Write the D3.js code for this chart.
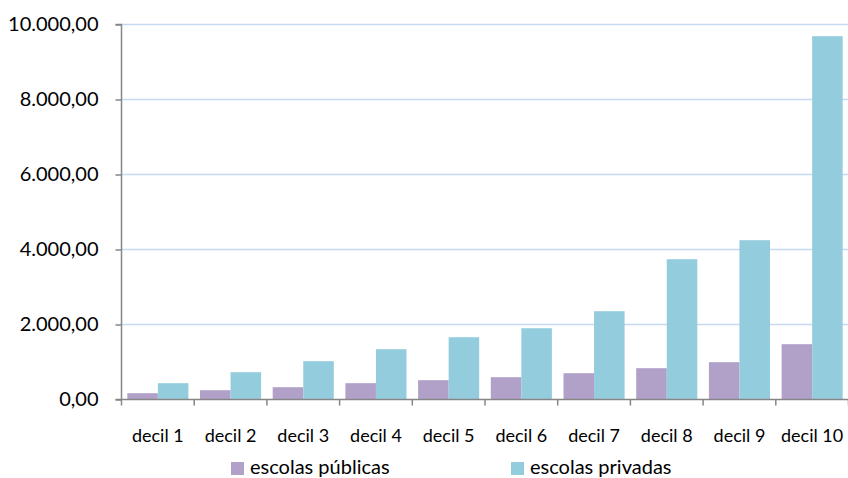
<!DOCTYPE html>
<html><head><meta charset="utf-8">
<script src="https://cdn.jsdelivr.net/npm/d3@7"></script>
<style>
html,body{margin:0;padding:0;background:#fff;}
svg{display:block;font-family:Lato, "Open Sans", sans-serif;}
</style></head>
<body>
<svg id="chart" width="848" height="478"></svg>
<script>
const categories = ["decil 1","decil 2","decil 3","decil 4","decil 5","decil 6","decil 7","decil 8","decil 9","decil 10"];
const seriesNames = ["escolas públicas","escolas privadas"];
const publicas = [168, 248, 328, 435, 515, 595, 701, 835, 995, 1475];
const privadas = [435, 728, 1021, 1341, 1661, 1901, 2355, 3741, 4248, 9688];
const yTicks = [0, 2000, 4000, 6000, 8000, 10000];
const colors = ["#B1A0C7", "#93CDDD"];

(function(){
const svg = d3.select("#chart");
const pl = 121.5, pr = 848.5, pt = 24.5, pb = 399.5;

const x = d3.scaleBand().domain(categories).range([pl, pr]).padding(0);
const xs = d3.scaleBand().domain(seriesNames).range([0, x.bandwidth()]).paddingInner(0).paddingOuter(0.19);
const y = d3.scaleLinear().domain([0, 10000]).range([pb, pt]);

const fmt = v => d3.format(",.2f")(v).replace(/,/g, "#").replace(/\./g, ",").replace(/#/g, ".");

svg.append("g").selectAll("line").data(yTicks.filter(d => d > 0)).join("line")
  .attr("x1", pl).attr("x2", 848).attr("y1", d => y(d)).attr("y2", d => y(d))
  .attr("stroke", "#C6D9F1").attr("stroke-width", 1.5);

const data = categories.map((c, i) => ({c, vals: [publicas[i], privadas[i]]}));
const g = svg.append("g").selectAll("g").data(data).join("g")
  .attr("transform", d => `translate(${x(d.c)},0)`);
g.selectAll("rect").data(d => d.vals.map((v, j) => ({s: seriesNames[j], v, j}))).join("rect")
  .attr("x", d => xs(d.s)).attr("width", xs.bandwidth())
  .attr("y", d => y(d.v)).attr("height", d => pb - y(d.v))
  .attr("fill", d => colors[d.j]);

const yAxis = d3.axisLeft(y).tickValues(yTicks).tickFormat(fmt).tickSize(6).tickPadding(17);
const ya = svg.append("g").attr("transform", `translate(${pl},0)`).call(yAxis);
ya.select(".domain").attr("stroke", "#868686").attr("stroke-width", 1.5).attr("d", `M-6,${pt}H0V${pb}`);
ya.selectAll(".tick line").attr("stroke", "#868686").attr("stroke-width", 1.5);
ya.selectAll(".tick text").attr("font-size", 20).attr("fill", "#000").attr("font-family", "Lato");

const xa = svg.append("g").attr("transform", `translate(0,${pb})`);
xa.append("line").attr("x1", pl - 6).attr("x2", 848).attr("y1", 0).attr("y2", 0)
  .attr("stroke", "#868686").attr("stroke-width", 1.5);
const bounds = categories.map(c => x(c)).concat([pr]);
xa.selectAll("line.tk").data(bounds).join("line").attr("class", "tk")
  .attr("x1", d => d).attr("x2", d => d).attr("y1", 0).attr("y2", 6)
  .attr("stroke", "#868686").attr("stroke-width", 1.5);
xa.selectAll("text").data(categories).join("text")
  .attr("x", d => x(d) + x.bandwidth() / 2).attr("y", 42)
  .attr("text-anchor", "middle").attr("font-size", 18).attr("fill", "#000")
  .text(d => d);

const legX = [231, 511];
const lg = svg.append("g").selectAll("g").data(seriesNames).join("g")
  .attr("transform", (d, i) => `translate(${legX[i]},462)`);
lg.append("rect").attr("width", 13).attr("height", 13).attr("fill", (d, i) => colors[i]);
lg.append("text").attr("x", 19).attr("y", 11.5).attr("font-size", 20).attr("fill", "#000").text(d => d);
})();
</script>
</body></html>
